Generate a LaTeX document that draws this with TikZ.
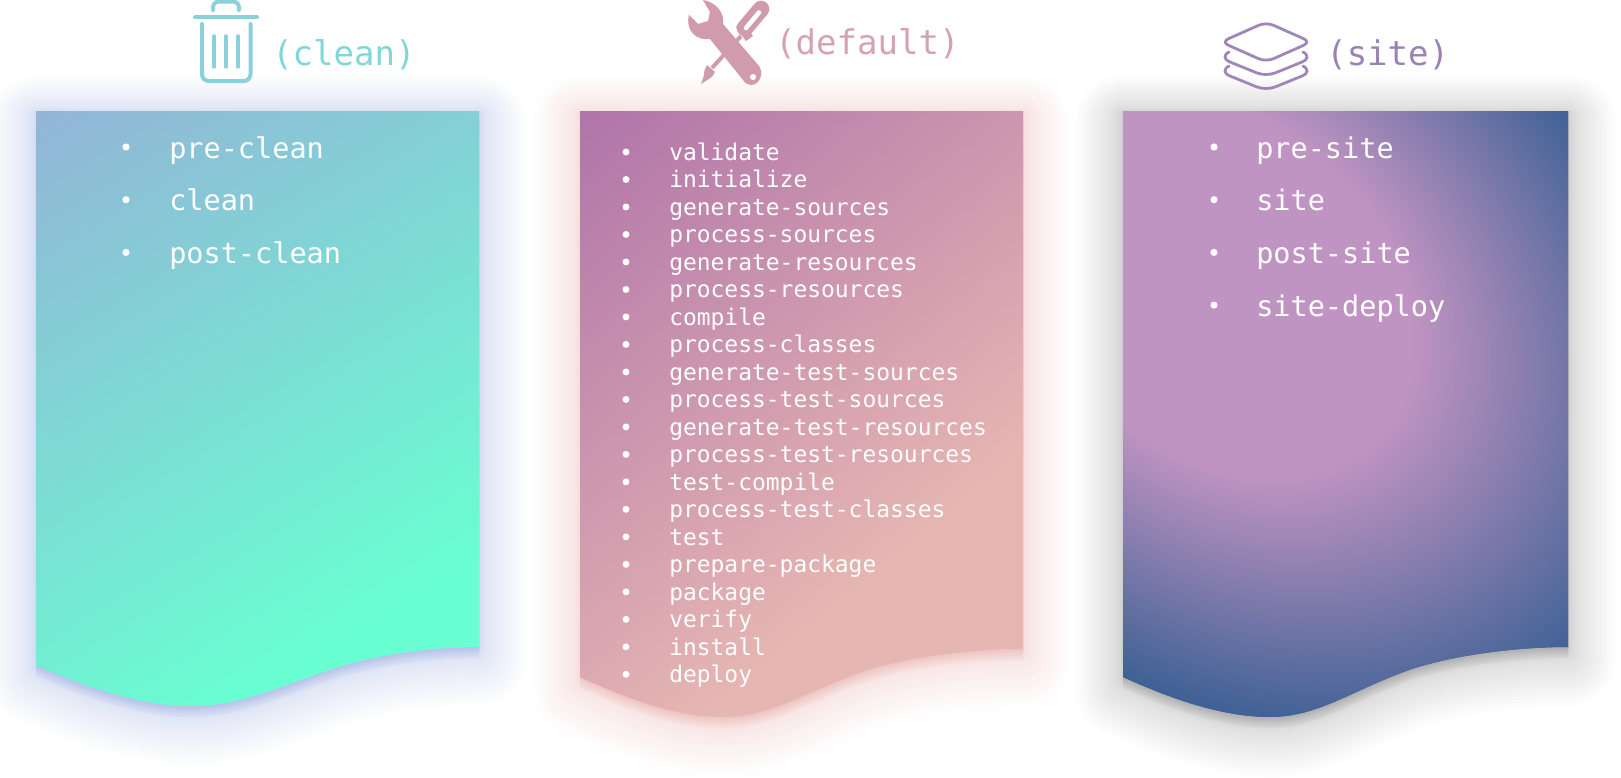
\documentclass[tikz,border=0pt]{standalone}
\usepackage{xcolor}
\usepackage{fontspec}
\usetikzlibrary{calc,positioning}
\newfontfamily\sheetfont{DejaVu Sans Mono}
\definecolor{cleanTop}{RGB}{147,180,215}
\definecolor{cleanEnd}{RGB}{105,255,210}
\definecolor{cleanIcon}{RGB}{139,208,218}
\definecolor{cleanText}{RGB}{128,215,215}
\definecolor{cleanGlow}{RGB}{140,160,220}
\definecolor{defaultTop}{RGB}{176,116,170}
\definecolor{defaultEnd}{RGB}{230,182,178}
\definecolor{defaultIcon}{RGB}{208,155,172}
\definecolor{defaultText}{RGB}{212,162,180}
\definecolor{defaultGlow}{RGB}{228,165,160}
\definecolor{sitePink}{RGB}{192,148,194}
\definecolor{siteDark}{RGB}{60,96,148}
\definecolor{siteIcon}{RGB}{160,135,185}
\definecolor{siteText}{RGB}{155,130,180}
\definecolor{siteGlow}{RGB}{130,130,130}
\pgfdeclareradialshading{sitefill}{\pgfpointorigin}{color(0bp)=(sitePink); color(10.5bp)=(sitePink); color(25bp)=(siteDark); color(50bp)=(siteDark)}
\tikzset{
    biglabel/.style={anchor=base west, inner sep=0pt, font=\sheetfont\fontsize{25.5pt}{25.5pt}\selectfont},
    bigitem/.style={anchor=base west, inner sep=0pt, text=white, font=\sheetfont\fontsize{21.4pt}{21.4pt}\selectfont},
    smallitem/.style={anchor=base west, inner sep=0pt, text=white, font=\sheetfont\fontsize{17.2pt}{17.2pt}\selectfont},
    sheetglow/.style={draw=#1, fill=#1, opacity=0.014, line join=round}
}
% left, right, x of lowest point, lowest y, y at left, y at right
\newcommand{\sheetpath}[6]{({#1},111) -- ({#2},111) -- ({#2},{#6})
    .. controls ({#2-39},{#6}) and ({#3+197},{#6+5}) .. ({#3+145},{#6+21})
    .. controls ({#3+85},{#6+41}) and ({#3+50},{#4}) .. ({#3},{#4})
    .. controls ({#3-50},{#4}) and ({#1+44},{#5+20}) .. ({#1},{#5}) -- cycle}

\begin{document}
\begin{tikzpicture}[x=0.75pt,y=-0.75pt]
\useasboundingbox (0,0) rectangle (1621,778);

% soft shadows
\foreach \i in {1,...,32}
{
    \pgfmathsetmacro{\w}{72*(\i/32)^2}
    \pgfmathsetmacro{\s}{12*\i/32}
    \draw[sheetglow=cleanGlow, line width=\w pt, shift={(0,\s)}] \sheetpath{36}{479}{190}{706}{665}{647};
    \draw[sheetglow=defaultGlow, line width=\w pt, shift={(0,\s)}] \sheetpath{580}{1023}{723}{717}{677}{649};
    \draw[sheetglow=siteGlow, line width=\w pt, shift={(0,\s)}] \sheetpath{1123}{1568}{1270}{717}{677}{647};
}

% sheets
\begin{scope}
    \clip \sheetpath{36}{479}{190}{706}{665}{647};
    \fill[cleanEnd] (0,0) rectangle (600,778);
    \begin{scope}[transform canvas={shift={(36,111)},rotate=-58.7}]
        \shade[left color=cleanTop, right color=cleanEnd] (0,-900) rectangle (612,900);
    \end{scope}
\end{scope}
\begin{scope}
    \clip \sheetpath{580}{1023}{723}{717}{677}{649};
    \fill[defaultEnd] (500,0) rectangle (1100,778);
    \begin{scope}[transform canvas={shift={(580,111)},rotate=-50.7}]
        \shade[left color=defaultTop, right color=defaultEnd] (0,-900) rectangle (547,900);
    \end{scope}
\end{scope}
\begin{scope}
    \clip \sheetpath{1123}{1568}{1270}{717}{677}{647};
    \fill[siteDark] (1100,0) rectangle (1621,778);
    \begin{scope}[transform canvas={shift={(1215,285)},rotate=-41,xscale=7.77,yscale=5.75}]
        \shade[shading=sitefill] (0,0) circle (50bp);
    \end{scope}
\end{scope}

% lists
\foreach \name [count=\i] in {pre-clean,clean,post-clean}
{
    \fill[white] ({126},{147+52.7*(\i-1)}) circle (2.7pt);
    \node[bigitem] (clean\i) at ({169},{158+52.7*(\i-1)}) {\name};
}
\foreach \name [count=\i] in {validate,initialize,generate-sources,process-sources,generate-resources,process-resources,compile,process-classes,generate-test-sources,process-test-sources,generate-test-resources,process-test-resources,test-compile,process-test-classes,test,prepare-package,package,verify,install,deploy}
{
    \fill[white] ({626},{152+27.49*(\i-1)}) circle (2.6pt);
    \node[smallitem] (default\i) at ({669},{160.3+27.49*(\i-1)}) {\name};
}
\foreach \name [count=\i] in {pre-site,site,post-site,site-deploy}
{
    \fill[white] ({1214},{147+52.7*(\i-1)}) circle (2.7pt);
    \node[bigitem] (site\i) at ({1256},{158+52.7*(\i-1)}) {\name};
}

% headings
\node[biglabel, text=cleanText] (cleanlabel) at (272,65) {(clean)};
\node[biglabel, text=defaultText] (defaultlabel) at (775,54) {(default)};
\node[biglabel, text=siteText] (sitelabel) at (1326,65) {(site)};

% bin
\draw[cleanIcon, line width=3pt, line cap=round] (195,17) -- (257,17);
\draw[cleanIcon, line width=3pt, line cap=round, rounded corners=4.5pt] (213,10) -- (213,1.5) -- (239,1.5) -- (239,10);
\draw[cleanIcon, line width=3pt, line cap=round, rounded corners=5pt] (202,24) -- (202,81) -- (250.5,81) -- (250.5,24);
\foreach \x in {214,226,238}
{
    \draw[cleanIcon, line width=2.6pt, line cap=round] (\x,36) -- (\x,67);
}

% wrench and screwdriver
\draw[defaultIcon, line width=3pt] (741,36) -- (712,68);
\fill[defaultIcon] (707,65) -- (715,72) .. controls (714,75) and (712,77) .. (709,79) -- (701,84) -- (704,75) .. controls (704,71) and (705,68) .. (707,65) -- cycle;
\fill[defaultIcon] (736,27) -- (746,41) -- (753,36) -- (742,20) -- cycle;
\draw[defaultIcon, line width=12.5pt, line cap=round] (761,9) -- (745,28);
\draw[white, line width=3.4pt, line cap=round] (759,12.5) -- (746,28);
\fill[defaultIcon, even odd rule] (703,0) .. controls (715,2) and (725,12) .. (723,24)
    -- (759,66) .. controls (764,73) and (760,85) .. (751,85) .. controls (748,85) and (745,83) .. (743,80)
    -- (710,39) .. controls (696,41) and (685,30) .. (689,15)
    -- (698,24) -- (708,21) -- (710,12) -- cycle
    (753,77) circle (2.4pt);

% layers
\draw[siteIcon, line width=2.1pt, rounded corners=6pt] (1221,42) -- (1266,22) -- (1311,42) -- (1266,62) -- cycle;
\foreach \y in {0,14}
{
    \draw[siteIcon, line width=2.1pt, line cap=round] (1229,{52+\y}) .. controls (1223,{55+\y}) and (1224,{60+\y}) .. (1230,{62+\y}) -- (1257,{73+\y}) .. controls (1263,{75+\y}) and (1269,{75+\y}) .. (1275,{73+\y}) -- (1302,{62+\y}) .. controls (1308,{60+\y}) and (1309,{55+\y}) .. (1303,{52+\y});
}
\end{tikzpicture}
\end{document}
